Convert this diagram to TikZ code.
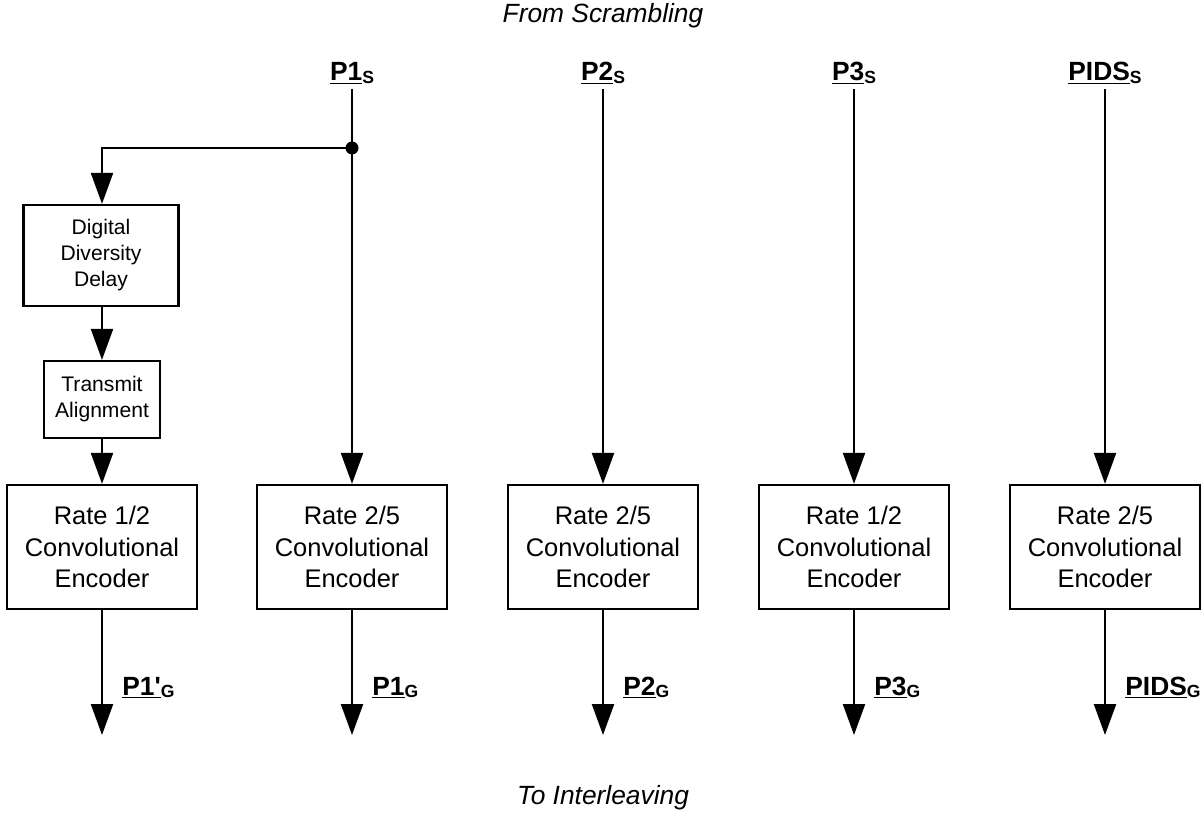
\documentclass[tikz,border=0pt]{standalone}
\usepackage{fontspec}
\setmainfont{Liberation Sans}
\usetikzlibrary{arrows.meta}
\newcommand\siglbl[2]{\bfseries\underline{#1}\raisebox{-1.5pt}{\fontsize{10}{10}\selectfont #2}}
\begin{document}
\begin{tikzpicture}[x=0.02cm,y=-0.02cm,
  wire/.style={line width=1.3pt},
  arr/.style={wire,-{Triangle[length=0.62cm,width=0.44cm]}},
  encbox/.style={draw,line width=1.3pt,minimum width=3.8cm,minimum height=2.48cm,inner sep=0pt,align=center,font=\fontsize{14.5}{17.8}\selectfont},
  smallbox/.style={draw,line width=1.3pt,inner sep=0pt,align=center,font=\fontsize{12}{14.8}\selectfont},
  siglabel/.style={anchor=base,inner sep=0pt,font=\fontsize{15}{18}\selectfont},
  outlabel/.style={anchor=base west,inner sep=0pt,font=\fontsize{15}{18}\selectfont},
  title/.style={font=\fontsize{15}{18}\selectfont\itshape,inner sep=0pt}]
\useasboundingbox (0,0) rectangle (1203,817);

\node[title] (from) at (603,16) {From Scrambling};
\node[title] (to) at (603,798) {To Interleaving};

% source labels
\node[siglabel] (p1s) at (352,81) {\siglbl{P1}{S}};
\node[siglabel] (p2s) at (603,81) {\siglbl{P2}{S}};
\node[siglabel] (p3s) at (854,81) {\siglbl{P3}{S}};
\node[siglabel] (pidss) at (1105,81) {\siglbl{PIDS}{S}};

% upper left boxes
\node[smallbox,minimum width=3.1cm,minimum height=2.02cm] (ddd) at (101,255.5) {Digital\\Diversity\\Delay};
\node[smallbox,minimum width=2.32cm,minimum height=1.54cm] (ta) at (102,399.5) {Transmit\\Alignment};

% encoders
\node[encbox] (enc1) at (102,547) {Rate 1/2\\Convolutional\\Encoder};
\node[encbox] (enc2) at (352,547) {Rate 2/5\\Convolutional\\Encoder};
\node[encbox] (enc3) at (603,547) {Rate 2/5\\Convolutional\\Encoder};
\node[encbox] (enc4) at (854,547) {Rate 1/2\\Convolutional\\Encoder};
\node[encbox] (enc5) at (1105,547) {Rate 2/5\\Convolutional\\Encoder};

% top coordinates
\coordinate (t1) at (352,89);
\coordinate (t2) at (603,89);
\coordinate (t3) at (854,89);
\coordinate (t4) at (1105,89);
\coordinate (j) at (352,148);

\draw[arr] (t1) -- (enc2.north);
\draw[arr] (t2) -- (enc3.north);
\draw[arr] (t3) -- (enc4.north);
\draw[arr] (t4) -- (enc5.north);
\draw[arr] (j) -| (ddd.north -| ta.north);
\fill (j) circle (0.13cm);
\draw[arr] (ddd.south -| ta.north) -- (ta.north);
\draw[arr] (ta.south) -- (enc1.north);

% outputs
\coordinate (o1) at (102,735);
\coordinate (o2) at (352,735);
\coordinate (o3) at (603,735);
\coordinate (o4) at (854,735);
\coordinate (o5) at (1105,735);
\draw[arr] (enc1.south) -- (o1);
\draw[arr] (enc2.south) -- (o2);
\draw[arr] (enc3.south) -- (o3);
\draw[arr] (enc4.south) -- (o4);
\draw[arr] (enc5.south) -- (o5);

\node[outlabel] (p1g) at (122,695) {\siglbl{P1\textquotesingle}{G}};
\node[outlabel] (p1gb) at (372,695) {\siglbl{P1}{G}};
\node[outlabel] (p2g) at (623,695) {\siglbl{P2}{G}};
\node[outlabel] (p3g) at (874,695) {\siglbl{P3}{G}};
\node[outlabel] (pidsg) at (1125,695) {\siglbl{PIDS}{G}};
\end{tikzpicture}
\end{document}
